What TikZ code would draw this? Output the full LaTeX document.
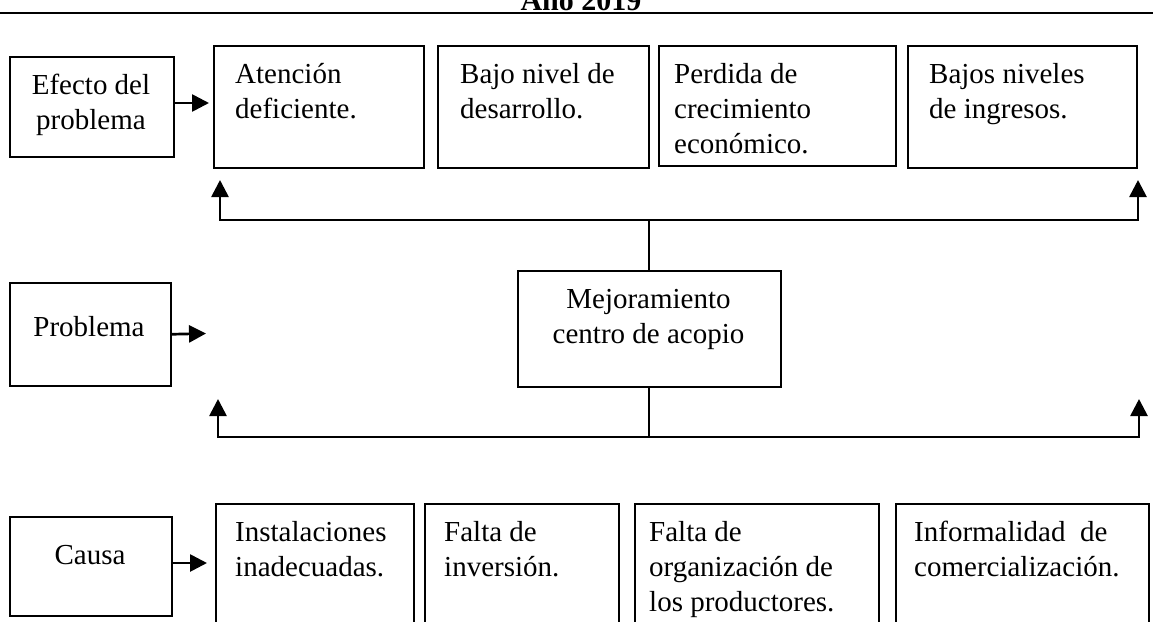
\documentclass[tikz,border=0pt]{standalone}
\usepackage{fontspec}
\setmainfont{Liberation Serif}
\usetikzlibrary{arrows.meta,calc}
\begin{document}
\begin{tikzpicture}[x=1pt,y=-1pt,
  box/.style={draw, line width=1.5pt, inner sep=0pt, anchor=north west},
  txt/.style={inner sep=0pt, font=\fontsize{29}{35}\selectfont},
  conn/.style={line width=2.7pt, -{Triangle[length=17pt,width=17pt]}},
  stem/.style={line width=1.8pt},
  rule/.style={line width=2pt}]
\useasboundingbox (0,0) rectangle (1153,621);
\fill[white] (0,0) rectangle (1153,621);
\clip (0,0) rectangle (1153,621);

% title and rule
\node[inner sep=0pt, anchor=base, font=\bfseries\fontsize{30}{36}\selectfont] (title) at (581,10) {Año 2019};
\coordinate (ruleL) at (0,13);
\coordinate (ruleR) at (1153,13);
\draw[rule] (ruleL) -- (ruleR);

% row labels
\node[box, minimum width=164pt, minimum height=100pt] (efecto) at (9,56) {};
\node[txt, anchor=base] (efectoT) at (91,94) {\parbox[t]{160pt}{\centering Efecto del\\problema}};
\node[box, minimum width=161pt, minimum height=103pt] (problema) at (9,282) {};
\node[txt, anchor=base] (problemaT) at (89,336) {Problema};
\node[box, minimum width=162pt, minimum height=99pt] (causa) at (9,516) {};
\node[txt, anchor=base] (causaT) at (90,564) {Causa};

% effects
\node[box, minimum width=210pt, minimum height=122pt] (e1) at (213,45) {};
\node[box, minimum width=211pt, minimum height=122pt] (e2) at (437,45) {};
\node[box, minimum width=237pt, minimum height=120pt] (e3) at (658,45) {};
\node[box, minimum width=229pt, minimum height=122pt] (e4) at (907,45) {};
\node[txt, anchor=base west] (e1T) at (235,83) {\parbox[t]{185pt}{\raggedright Atención\\deficiente.}};
\node[txt, anchor=base west] (e2T) at (460,83) {\parbox[t]{185pt}{\raggedright Bajo nivel de\\desarrollo.}};
\node[txt, anchor=base west] (e3T) at (674,83) {\parbox[t]{215pt}{\raggedright Perdida de\\crecimiento\\económico.}};
\node[txt, anchor=base west] (e4T) at (929,83) {\parbox[t]{205pt}{\raggedright Bajos niveles\\de ingresos.}};

% central problem
\node[box, minimum width=263pt, minimum height=116pt] (mej) at (517,270) {};
\node[txt, anchor=base] (mejT) at (648.5,308) {\parbox[t]{255pt}{\centering Mejoramiento\\centro de acopio}};

% causes
\node[box, minimum width=198pt, minimum height=140pt] (c1) at (215,503) {};
\node[box, minimum width=194pt, minimum height=140pt] (c2) at (424,503) {};
\node[box, minimum width=244pt, minimum height=140pt] (c3) at (634,503) {};
\node[box, minimum width=253pt, minimum height=140pt] (c4) at (895,503) {};
\node[txt, anchor=base west] (c1T) at (235,541) {\parbox[t]{180pt}{\raggedright Instalaciones\\inadecuadas.}};
\node[txt, anchor=base west] (c2T) at (444,541) {\parbox[t]{170pt}{\raggedright Falta de\\inversión.}};
\node[txt, anchor=base west] (c3T) at (649,541) {\parbox[t]{225pt}{\raggedright Falta de\\organización de\\los productores.}};
\node[txt, anchor=base west] (c4T) at (914,541) {\parbox[t]{232pt}{\raggedright Informalidad\ \ de\\comercialización.}};

% label arrows
\coordinate (effY) at (0,103);
\draw[conn, shorten >=4pt] (efecto.east |- effY) -- (e1.west |- effY);
\coordinate (probTip) at (206,333.5);
\draw[conn] (problema.east) -- (probTip);
\coordinate (causaY) at (0,563);
\draw[conn, shorten >=8pt] (causa.east |- causaY) -- (c1.west |- causaY);

% upper tree
\coordinate (barT) at (648.5,220);
\coordinate (topL) at (220,180);
\coordinate (topR) at (1138,180);
\draw[stem] (mej.north) -- (mej.north |- barT);
\draw[conn] (mej.north |- barT) -| (topL);
\draw[conn] (mej.north |- barT) -| (topR);

% lower tree
\coordinate (barB) at (648.5,437);
\coordinate (botL) at (218,399);
\coordinate (botR) at (1139,399);
\draw[stem] (mej.south) -- (mej.south |- barB);
\draw[conn] (mej.south |- barB) -| (botL);
\draw[conn] (mej.south |- barB) -| (botR);
\end{tikzpicture}
\end{document}
